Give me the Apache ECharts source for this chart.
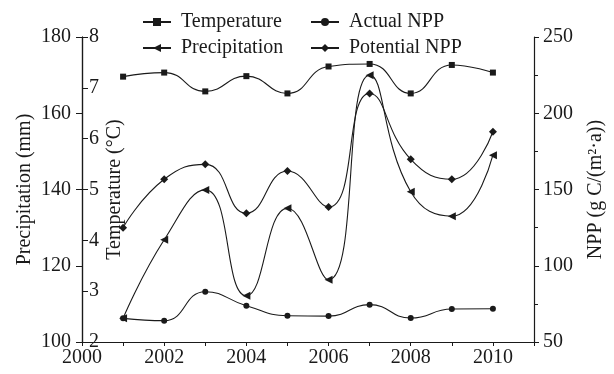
<!DOCTYPE html>
<html>
<head>
<meta charset="utf-8">
<script src="https://cdn.jsdelivr.net/npm/echarts@6/dist/echarts.min.js"></script>
<style>
  html, body { margin: 0; padding: 0; background: #fff; }
  #chart { width: 614px; height: 374px; }
</style>
</head>
<body>
<div id="chart"></div>
<script>
// years on the x axis
const years = [2001, 2002, 2003, 2004, 2005, 2006, 2007, 2008, 2009, 2010];
// temperature (°C), left inner axis
const temperature = [7.22, 7.30, 6.93, 7.23, 6.89, 7.42, 7.47, 6.89, 7.45, 7.30];
// precipitation (mm), left outer axis
const precipitation = [106.2, 126.8, 139.9, 112.1, 135.1, 116.3, 170.0, 139.4, 133.0, 149.0];
// NPP (g C/(m2.a)), right axis
const actualNPP = [65.5, 64.0, 83.0, 73.8, 67.2, 67.0, 74.5, 65.7, 71.6, 71.8];
const potentialNPP = [125.0, 156.7, 166.5, 134.4, 162.1, 138.5, 213.0, 169.8, 156.7, 187.9];

const ink = '#1a1a1a';
const font = 'Liberation Serif';
const fs = 20;

function pairs(vals) {
    return years.map((y, i) => [y, vals[i]]);
}

function lineSeries(name, vals, yIdx, symbol, size, rotate) {
    return {
        name: name,
        type: 'line',
        yAxisIndex: yIdx,
        data: pairs(vals),
        smooth: 0.5,
        symbol: symbol,
        symbolSize: size,
        symbolRotate: rotate || 0,
        showAllSymbol: true,
        itemStyle: { color: ink },
        lineStyle: { color: ink, width: 1.1 },
        emphasis: { disabled: true },
        z: 3
    };
}

const axisTextStyle = { color: ink, fontFamily: font, fontSize: fs };
const legendText = { fontFamily: font, fontSize: fs, color: ink, padding: [0, 0, 0, 5] };

const chart = echarts.init(document.getElementById('chart'), null, { renderer: 'canvas' });
chart.setOption({
    animation: false,
    backgroundColor: '#fff',
    textStyle: { fontFamily: font, color: ink },
    grid: { left: 82, right: 77, top: 37, bottom: 32 },
    legend: [
        {
            left: 137, top: 7, orient: 'vertical', itemGap: 6,
            itemWidth: 28, itemHeight: 10,
            textStyle: legendText,
            data: ['Temperature', 'Precipitation']
        },
        {
            left: 305, top: 7, orient: 'vertical', itemGap: 6,
            itemWidth: 28, itemHeight: 10,
            textStyle: legendText,
            data: ['Actual NPP', 'Potential NPP']
        }
    ],
    xAxis: {
        type: 'value',
        min: 2000, max: 2011, interval: 1,
        axisLine: { lineStyle: { color: ink, width: 1.2 } },
        axisTick: { inside: false, length: 4, lineStyle: { color: ink } },
        axisLabel: Object.assign({
            margin: 6,
            formatter: v => (v % 2 === 0 && v <= 2010) ? String(v) : ''
        }, axisTextStyle),
        splitLine: { show: false }
    },
    yAxis: [
        {
            type: 'value', position: 'left',
            min: 100, max: 180, interval: 20,
            name: 'Precipitation (mm)', nameLocation: 'middle', nameGap: 47,
            nameMoveOverlap: false,
            nameTextStyle: axisTextStyle,
            axisLine: { show: true, lineStyle: { color: ink, width: 1.2 } },
            axisTick: { show: true, inside: false, length: 6, lineStyle: { color: ink } },
            axisLabel: Object.assign({ margin: 11 }, axisTextStyle),
            splitLine: { show: false }
        },
        {
            type: 'value', position: 'left',
            min: 2, max: 8, interval: 1,
            name: 'Temperature (°C)', nameLocation: 'middle', nameGap: -43,
            nameMoveOverlap: false,
            nameTextStyle: axisTextStyle,
            axisLine: { show: true, lineStyle: { color: ink, width: 1.2 } },
            axisTick: { show: true, inside: true, length: 6, lineStyle: { color: ink } },
            axisLabel: Object.assign({ inside: true, margin: 7 }, axisTextStyle),
            splitLine: { show: false }
        },
        {
            type: 'value', position: 'right',
            min: 50, max: 250, interval: 50,
            name: 'NPP (g C/(m²·a))', nameLocation: 'middle', nameGap: 52,
            nameMoveOverlap: false,
            nameTextStyle: axisTextStyle,
            axisLine: { show: true, lineStyle: { color: ink, width: 1.2 } },
            axisTick: { show: true, inside: false, length: 5, lineStyle: { color: ink } },
            minorTick: { show: true, splitNumber: 2, length: 4, lineStyle: { color: ink } },
            axisLabel: Object.assign({ margin: 9 }, axisTextStyle),
            splitLine: { show: false }
        }
    ],
    series: [
        lineSeries('Temperature', temperature, 1, 'rect', 6),
        lineSeries('Actual NPP', actualNPP, 2, 'circle', 6),
        lineSeries('Precipitation', precipitation, 0, 'triangle', 8, 90),
        lineSeries('Potential NPP', potentialNPP, 2, 'diamond', 8)
    ]
});
</script>
</body>
</html>
